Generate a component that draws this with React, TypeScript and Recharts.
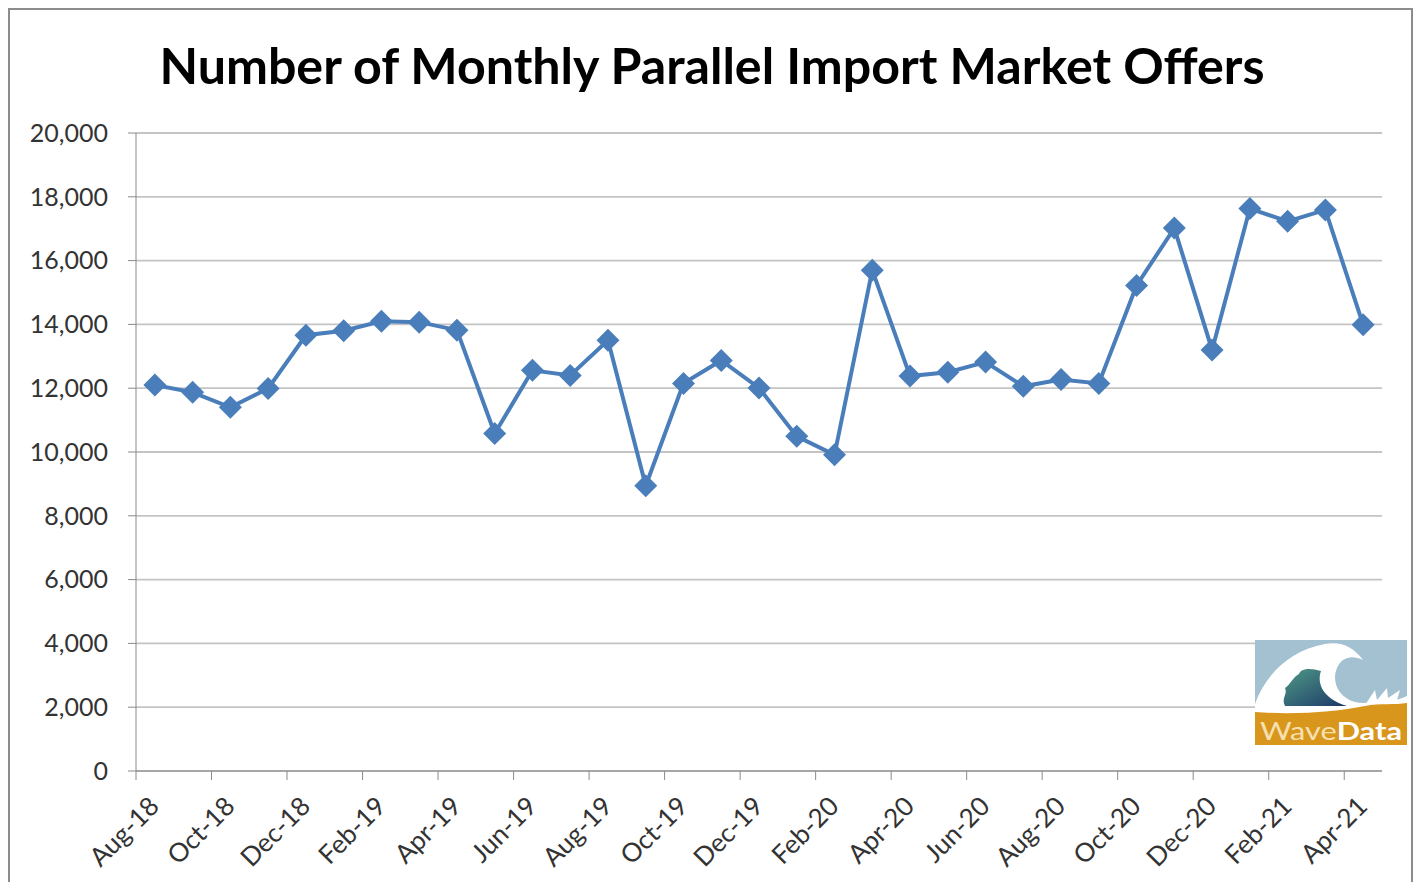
import React from 'react';
import { LineChart, Line, XAxis, YAxis, CartesianGrid } from 'recharts';

const months = [
  'Aug-18', 'Sep-18', 'Oct-18', 'Nov-18', 'Dec-18', 'Jan-19', 'Feb-19', 'Mar-19', 'Apr-19',
  'May-19', 'Jun-19', 'Jul-19', 'Aug-19', 'Sep-19', 'Oct-19', 'Nov-19', 'Dec-19', 'Jan-20',
  'Feb-20', 'Mar-20', 'Apr-20', 'May-20', 'Jun-20', 'Jul-20', 'Aug-20', 'Sep-20', 'Oct-20',
  'Nov-20', 'Dec-20', 'Jan-21', 'Feb-21', 'Mar-21', 'Apr-21',
];

const offers = [
  12100, 11870, 11400, 11990, 13660, 13800, 14100, 14070, 13820,
  10580, 12560, 12400, 13500, 8940, 12150, 12870, 12010, 10490,
  9910, 15700, 12380, 12500, 12820, 12060, 12270, 12150, 15220,
  17020, 13200, 17630, 17230, 17590, 13990,
];

const yTicks = [0, 2000, 4000, 6000, 8000, 10000, 12000, 14000, 16000, 18000, 20000];

const data = months.map((m, i) => ({ idx: i, month: m, offers: offers[i] }));

// tick marks sit between months, every second month (Excel style)
const xTicks = months.map((_, i) => i - 0.5).filter((_, i) => i % 2 === 0);

const CHART_W = 1401;
const CHART_H = 864;
const Y_AXIS_W = 126;
const MARGIN = { top: 123, right: 29, bottom: 3, left: 0 };
const HALF_BAND = (CHART_W - Y_AXIS_W - MARGIN.right) / months.length / 2;

const BLUE = '#4a7ebb';
const AXIS = '#8a8a8a';
const FONT = 'Lato, "Noto Sans", sans-serif';

const XTick = (props: any) => {
  const { x, y, payload } = props;
  const label = months[Math.round(payload.value + 0.5)];
  const tx = x + HALF_BAND - 4;
  const ty = y + 14;
  return (
    <text
      x={tx}
      y={ty}
      dy={14}
      textAnchor="end"
      fill="#333"
      fontSize={26}
      fontFamily={FONT}
      transform={`rotate(-45 ${tx} ${ty})`}
    >
      {label}
    </text>
  );
};

const Diamond = (props: any) => {
  const { cx, cy, index } = props;
  const r = 11.5;
  return (
    <path
      key={`d-${index}`}
      d={`M${cx},${cy - r} L${cx + r},${cy} L${cx},${cy + r} L${cx - r},${cy} Z`}
      fill={BLUE}
    />
  );
};

const Logo = () => (
  <svg width={152} height={105} style={{ position: 'absolute', left: 1245, top: 630 }}>
    <defs>
      <linearGradient id="teal" x1="0" y1="0" x2="1" y2="1">
        <stop offset="0%" stopColor="#4f9a86" />
        <stop offset="100%" stopColor="#1b3768" />
      </linearGradient>
    </defs>
    <rect x={0} y={0} width={152} height={105} fill="#a3c1d1" />
    <path
      d="M0,64 C10,35 35,10 70,4 C85,1 98,6 108,20 C96,14 86,18 82,28 C76,42 84,58 100,62 C112,65 125,60 140,60 L152,58 L152,76 L0,76 Z"
      fill="#fff"
    />
    <path
      d="M30,66 C26,58 33,54 30,48 C36,44 37,38 44,34 C46,28 56,28 66,31 C62,42 66,58 92,66 Z"
      fill="url(#teal)"
    />
    <path d="M112,62 L120,50 L122,60 L132,48 L133,58 L145,50 L142,60 L152,56 L152,66 L112,66 Z" fill="#fff" />
    <path d="M0,72 C40,75 80,72 110,66 C125,63 140,65 152,63 L152,105 L0,105 Z" fill="#d9961c" />
    <text x={5} y={100} fontSize={25} fontFamily={FONT} textLength={142} lengthAdjust="spacingAndGlyphs">
      <tspan fill="#f5e0b0">Wave</tspan>
      <tspan fill="#fff" fontWeight="bold">Data</tspan>
    </text>
  </svg>
);

export default function App() {
  return (
    <div
      style={{
        position: 'relative',
        boxSizing: 'border-box',
        width: 1405,
        height: 874,
        border: '2px solid #8c8c8c',
        borderBottom: 'none',
        background: '#fff',
        overflow: 'hidden',
      }}
    >
      <svg width={1401} height={110} style={{ position: 'absolute', left: 0, top: 0 }}>
        <text
          x={702}
          y={74}
          textAnchor="middle"
          fontSize={50}
          fontWeight="bold"
          fontFamily={FONT}
          fill="#000"
          textLength={1105}
          lengthAdjust="spacingAndGlyphs"
        >
          Number of Monthly Parallel Import Market Offers
        </text>
      </svg>
      <div style={{ position: 'absolute', left: 0, top: 0 }}>
        <LineChart width={CHART_W} height={CHART_H} data={data} margin={MARGIN}>
          <CartesianGrid vertical={false} stroke="#c4c4c4" strokeWidth={1.8} />
          <XAxis
            dataKey="idx"
            type="number"
            domain={[-0.5, months.length - 0.5]}
            ticks={xTicks}
            interval={0}
            height={100}
            stroke={AXIS}
            tickSize={9}
            tickMargin={4}
            tick={<XTick />}
          />
          <YAxis
            domain={[0, 20000]}
            ticks={yTicks}
            width={Y_AXIS_W}
            stroke={AXIS}
            tickSize={8}
            tickMargin={20}
            tick={{ fill: '#333', fontSize: 25, fontFamily: FONT }}
            tickFormatter={(v: number) => v.toLocaleString('en-US')}
          />
          <Line
            type="linear"
            dataKey="offers"
            stroke={BLUE}
            strokeWidth={4}
            dot={<Diamond />}
            activeDot={false}
            isAnimationActive={false}
          />
        </LineChart>
      </div>
      <Logo />
    </div>
  );
}
